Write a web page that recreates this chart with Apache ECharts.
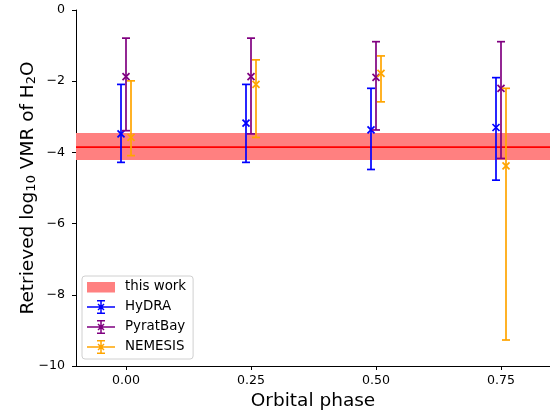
<!DOCTYPE html>
<html><head><meta charset="utf-8">
<script src="https://cdn.jsdelivr.net/npm/echarts@6/dist/echarts.min.js"></script>
<style>html,body{margin:0;padding:0;background:#fff}#c{width:550px;height:412px}</style>
</head><body><div id="c"></div>
<script>
// ---- data ----
const xTicks = [0, 0.25, 0.5, 0.75];
const xRange = [-0.1, 0.848];
const yRange = [-10, 0];
const bandCenter = -3.85, bandLow = -4.21, bandHigh = -3.455;

const hydraPhase = [-0.01, 0.24, 0.49, 0.74];
const hydraVal   = [-3.48, -3.18, -3.37, -3.30];
const hydraLow   = [-4.28, -4.28, -4.48, -4.78];
const hydraHigh  = [-2.09, -2.09, -2.20, -1.90];

const pyratPhase = [0.00, 0.25, 0.50, 0.75];
const pyratVal   = [-1.87, -1.87, -1.89, -2.20];
const pyratLow   = [-3.39, -3.48, -3.37, -4.17];
const pyratHigh  = [-0.79, -0.79, -0.89, -0.89];

const nemPhase = [0.01, 0.26, 0.51, 0.76];
const nemVal   = [-3.58, -2.09, -1.78, -4.38];
const nemLow   = [-4.09, -3.58, -2.58, -9.27];
const nemHigh  = [-1.99, -1.40, -1.29, -2.20];

// ---- helpers ----
const FONT = 'DejaVu Sans';
function rows(ph, v, lo, hi){ return ph.map((p,i)=>[p, lo[i], hi[i], v[i]]); }
function errRender(color){
  return function(params, api){
    const x = api.value(0);
    const pLo = api.coord([x, api.value(1)]);
    const pHi = api.coord([x, api.value(2)]);
    const pV  = api.coord([x, api.value(3)]);
    const cap = 4, m = 3.5;
    const st = {stroke: color, lineWidth: 1.7, fill: null};
    const L = (x1,y1,x2,y2)=>({type:'line', shape:{x1,y1,x2,y2}, style:st});
    return {type:'group', children:[
      L(pLo[0], pLo[1], pHi[0], pHi[1]),
      L(pLo[0]-cap, pLo[1], pLo[0]+cap, pLo[1]),
      L(pHi[0]-cap, pHi[1], pHi[0]+cap, pHi[1]),
      L(pV[0]-m, pV[1]-m, pV[0]+m, pV[1]+m),
      L(pV[0]-m, pV[1]+m, pV[0]+m, pV[1]-m)
    ]};
  };
}
const errIcon = 'path://M0,0L28,0L28,0Z M0,6.25H28V7.75H0Z M13.25,0H14.75V14H13.25Z M10,0H18V1.5H10Z M10,12.5H18V14H10Z M10.5,4.5L11.5,3.5L17.5,9.5L16.5,10.5Z M16.5,3.5L17.5,4.5L11.5,10.5L10.5,9.5Z';
const bandIcon = 'path://M0,0L28,0L28,0Z M0,14L28,14L28,14Z M0,2H28V12.5H0Z';

const chart = echarts.init(document.getElementById('c'));
chart.setOption({
  animation: false,
  backgroundColor: '#fff',
  textStyle: {fontFamily: FONT},
  grid: {left: 76, right: 0, top: 10, bottom: 46, containLabel: false, outerBoundsMode: 'none'},
  xAxis: {
    type: 'value', min: xRange[0], max: xRange[1],
    name: 'Orbital phase', nameLocation: 'middle', nameGap: 26, nameMoveOverlap: false,
    nameTextStyle: {fontSize: 18.5, color: '#000', fontFamily: FONT},
    axisLine: {show: true, onZero: false, lineStyle: {color: '#000', width: 1}},
    axisTick: {show: true, length: 4, lineStyle: {color: '#000'}, customValues: xTicks},
    axisLabel: {customValues: xTicks, formatter: v => v.toFixed(2), fontSize: 12.6, color: '#000', margin: 8, fontFamily: FONT},
    splitLine: {show: false}
  },
  yAxis: {
    type: 'value', min: yRange[0], max: yRange[1], interval: 2,
    name: 'Retrieved log{s|10} VMR of H{s|2}O', nameLocation: 'middle', nameGap: 38, nameRotate: 90, nameMoveOverlap: false,
    nameTextStyle: {fontSize: 18.5, color: '#000', fontFamily: FONT,
      rich: {s: {fontSize: 13, fontFamily: FONT, color: '#000', padding: [7, 0, 0, 0]}}},
    axisLine: {show: true, onZero: false, lineStyle: {color: '#000', width: 1}},
    axisTick: {show: true, length: 4, lineStyle: {color: '#000'}},
    axisLabel: {formatter: v => String(v).replace('-', '\u2212'), fontSize: 12.6, color: '#000', margin: 11, fontFamily: FONT},
    splitLine: {show: false}
  },
  legend: {
    orient: 'vertical', left: 82, top: 276,
    padding: [4, 7, 5, 5], itemGap: 6, itemWidth: 28, itemHeight: 14,
    backgroundColor: '#fff', borderColor: '#d0d0d0', borderWidth: 1, borderRadius: 3,
    textStyle: {fontSize: 13.4, color: '#000', fontFamily: FONT, padding: [0, 0, 0, 5]},
    data: [
      {name: 'this work', icon: bandIcon},
      {name: 'HyDRA', icon: errIcon},
      {name: 'PyratBay', icon: errIcon},
      {name: 'NEMESIS', icon: errIcon}
    ]
  },
  series: [
    {
      name: 'this work', type: 'custom', itemStyle: {color: '#ff8080'},
      data: [[xRange[0], bandLow, bandHigh, bandCenter]],
      encode: {x: 0, y: [1, 2, 3]},
      renderItem: function(params, api){
        const cs = params.coordSys;
        const pHi = api.coord([xRange[0], api.value(2)]);
        const pLo = api.coord([xRange[0], api.value(1)]);
        const pC  = api.coord([xRange[0], api.value(3)]);
        return {type:'group', children:[
          {type:'rect', shape:{x: cs.x, y: pHi[1], width: cs.width, height: pLo[1]-pHi[1]}, style:{fill:'#ff8080'}},
          {type:'line', shape:{x1: cs.x, y1: pC[1], x2: cs.x+cs.width, y2: pC[1]}, style:{stroke:'#ff0000', lineWidth:1.7}}
        ]};
      },
      z: 1
    },
    {name: 'HyDRA', type: 'custom', itemStyle: {color: '#0000ff'}, data: rows(hydraPhase, hydraVal, hydraLow, hydraHigh),
     encode: {x: 0, y: [1, 2, 3]}, renderItem: errRender('#0000ff'), z: 2},
    {name: 'PyratBay', type: 'custom', itemStyle: {color: '#800080'}, data: rows(pyratPhase, pyratVal, pyratLow, pyratHigh),
     encode: {x: 0, y: [1, 2, 3]}, renderItem: errRender('#800080'), z: 3},
    {name: 'NEMESIS', type: 'custom', itemStyle: {color: '#ffa500'}, data: rows(nemPhase, nemVal, nemLow, nemHigh),
     encode: {x: 0, y: [1, 2, 3]}, renderItem: errRender('#ffa500'), z: 4}
  ]
});
</script></body></html>
